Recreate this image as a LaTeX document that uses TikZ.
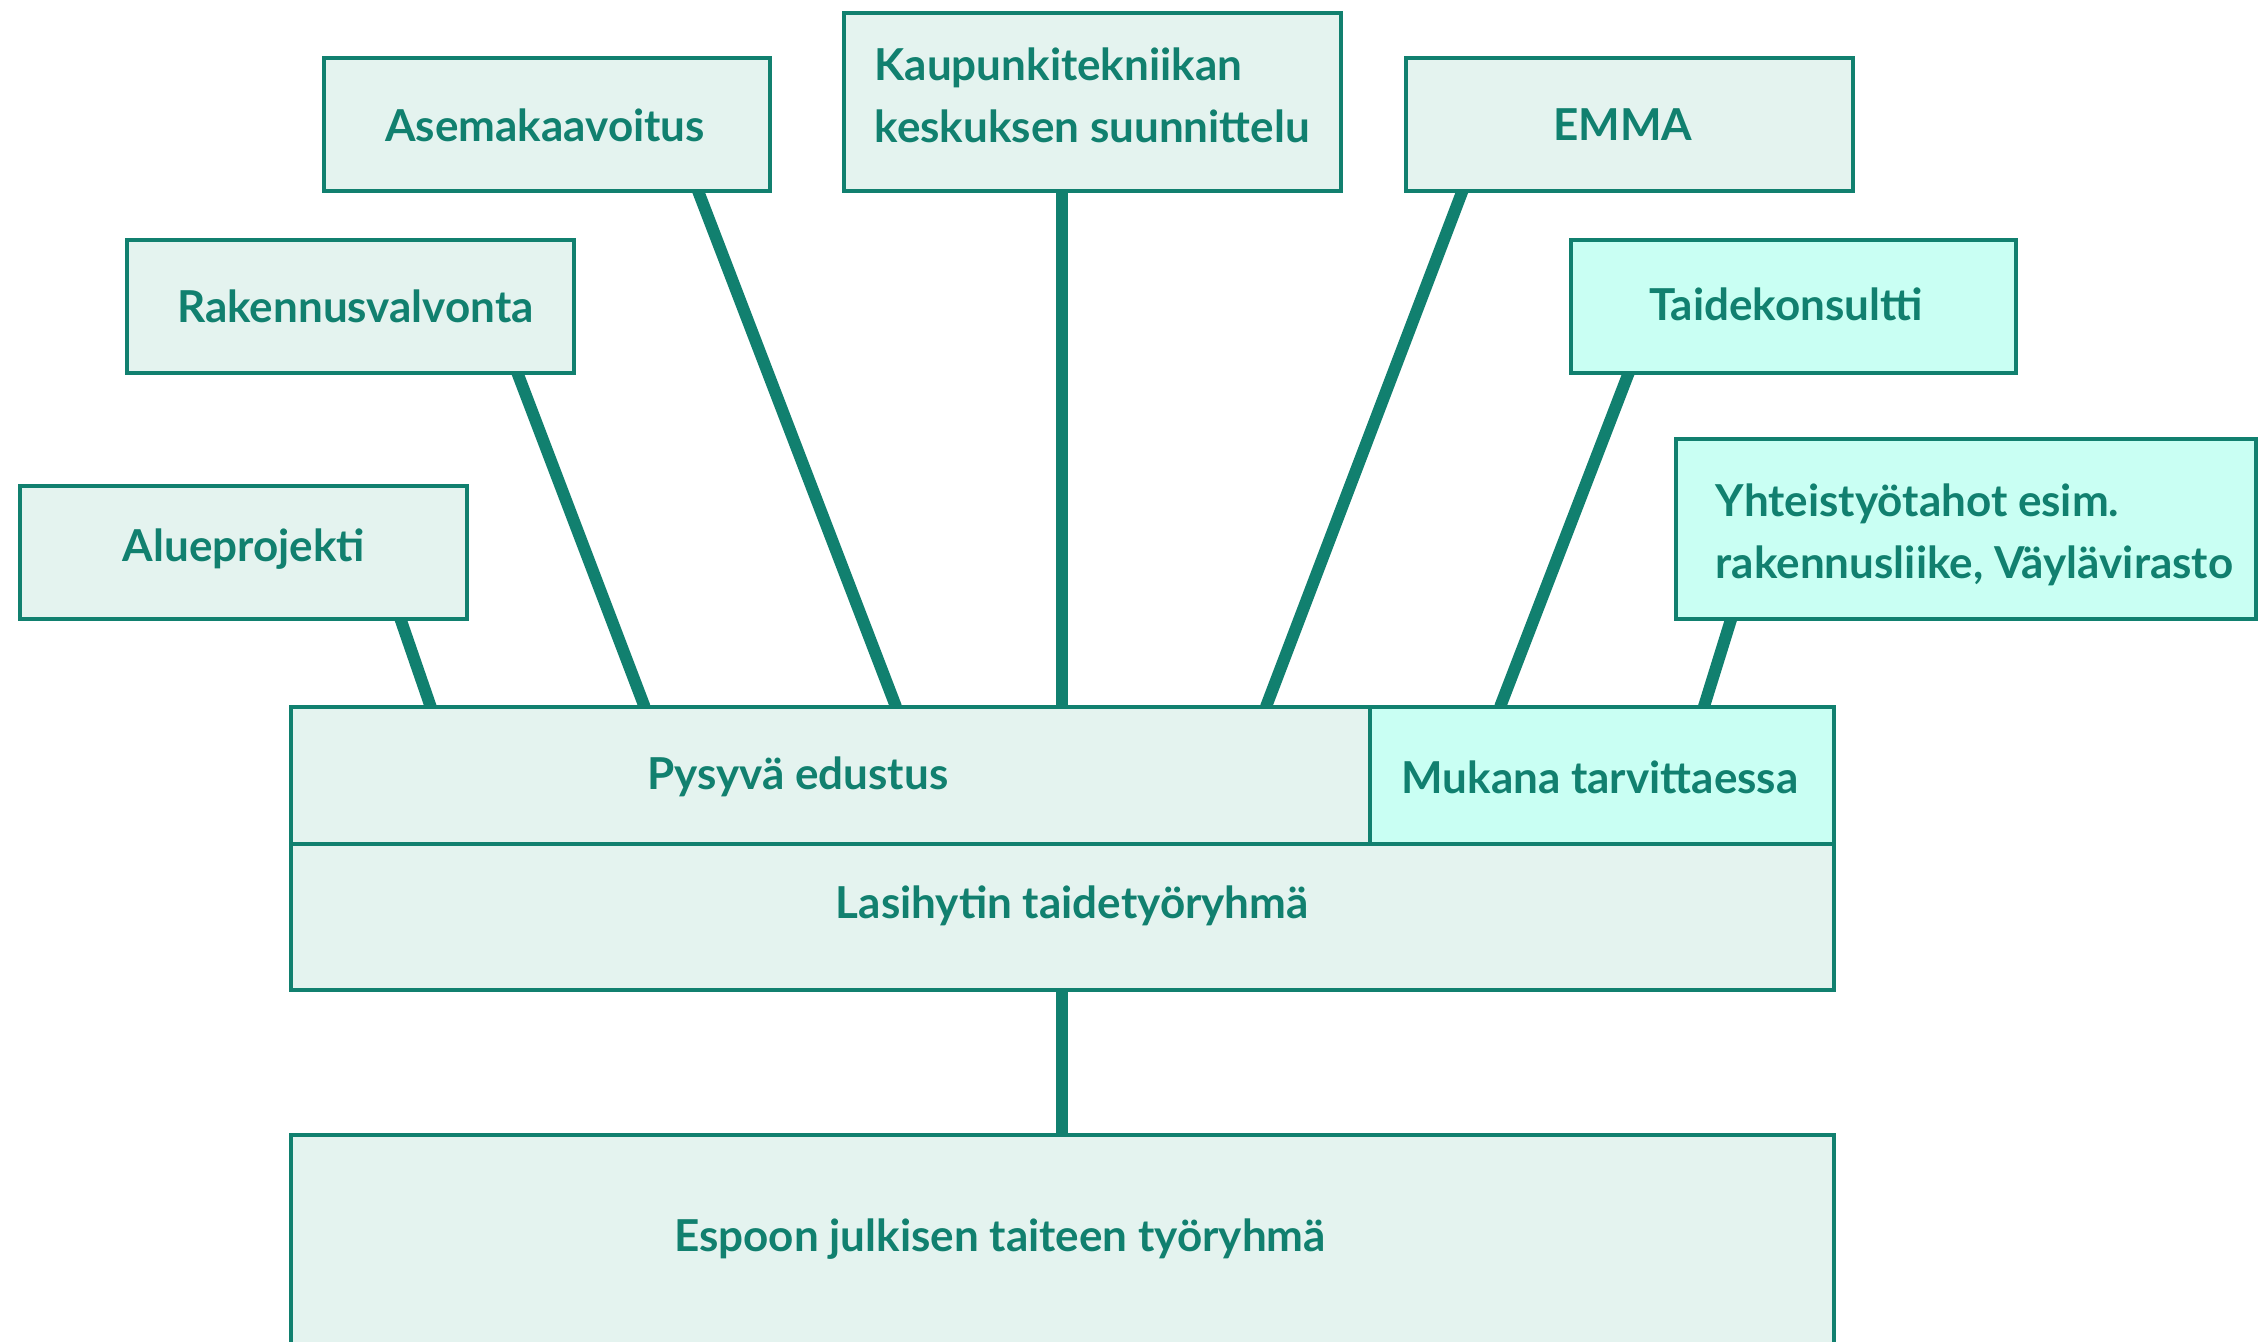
\documentclass[tikz,border=0pt]{standalone}
\usepackage{fontspec}
\setmainfont{Lato}
\usetikzlibrary{backgrounds}
\definecolor{teal1}{HTML}{11806F}
\definecolor{fillA}{HTML}{E4F3EF}
\definecolor{fillB}{HTML}{C9FFF3}
\begin{document}
\begin{tikzpicture}[x=1pt,y=-1pt,
  box/.style={rectangle, draw=teal1, line width=4pt, fill=fillA, inner sep=0pt, outer sep=0pt},
  boxb/.style={box, fill=fillB},
  txt/.style={text=teal1, font=\fontsize{44}{62}\selectfont\bfseries, inner sep=0pt},
  conn/.style={draw=teal1, line width=12pt}]
\useasboundingbox (0,0) rectangle (2266,1341);
% boxes
\node[box, minimum width=446.6pt, minimum height=133pt] (asema) at (547,124.3) {};
\node[box, minimum width=497pt, minimum height=177.8pt] (kaup) at (1092.5,101.9) {};
\node[box, minimum width=446.5pt, minimum height=133pt] (emma) at (1629.5,124.3) {};
\node[box, minimum width=446.5pt, minimum height=133pt] (rak) at (350.4,306.4) {};
\node[boxb, minimum width=445pt, minimum height=133pt] (taide) at (1793.5,306.4) {};
\node[box, minimum width=446.6pt, minimum height=133pt] (alue) at (243.5,552) {};
\node[boxb, minimum width=579.5pt, minimum height=179.2pt] (yht) at (1966.2,528.9) {};
\node[box, minimum width=1079.5pt, minimum height=137.3pt] (pe) at (830.3,775.4) {};
\node[boxb, minimum width=464pt, minimum height=137.3pt] (muk) at (1602,775.4) {};
\node[box, minimum width=1543.5pt, minimum height=146pt] (las) at (1062.3,917) {};
\node[box, minimum width=1543.5pt, minimum height=225.5pt] (esp) at (1062.3,1247.3) {};
% texts
\node[txt] (asemaT) at (545,125) {Asemakaavoitus};
\node[txt, anchor=west, align=left] (kaupT) at (874.4,95) {Kaupunkitekniikan\\keskuksen suunnittelu};
\node[txt] (emmaT) at (1623,125) {EMMA};
\node[txt] (rakT) at (355.5,306) {Rakennusvalvonta};
\node[txt] (taideT) at (1786,304) {Taidekonsultti};
\node[txt] (alueT) at (244,549) {Alueprojekti};
\node[txt, anchor=west, align=left] (yhtT) at (1715.5,535) {Yhteistyötahot esim.\\rakennusliike, Väylävirasto};
\node[txt] (peT) at (797.8,777) {Pysyvä edustus};
\node[txt] (mukT) at (1600,777) {Mukana tarvittaessa};
\node[txt] (lasT) at (1072.3,906) {Lasihytin taidetyöryhmä};
\node[txt] (espT) at (1000,1239) {Espoon julkisen taiteen työryhmä};
% connectors
\begin{pgfonlayer}{background}
\fill[white] (0,0) rectangle (2266,1341);
\draw[conn] ([xshift=156.8pt]alue.south) -- ([xshift=-399.6pt]pe.north);
\draw[conn] ([xshift=167pt]rak.south) -- ([xshift=-185.7pt]pe.north);
\draw[conn] ([xshift=151pt]asema.south) -- ([xshift=65.7pt]pe.north);
\draw[conn] ([xshift=-30.3pt]kaup.south) -- ([xshift=231.9pt]pe.north);
\draw[conn] ([xshift=-167pt]emma.south) -- ([xshift=435.7pt]pe.north);
\draw[conn] ([xshift=-164.8pt]taide.south) -- ([xshift=-101.9pt]muk.north);
\draw[conn] ([xshift=-234.9pt]yht.south) -- ([xshift=101.9pt]muk.north);
\draw[conn] (las.south) -- (esp.north);
\end{pgfonlayer}
\end{tikzpicture}
\end{document}
